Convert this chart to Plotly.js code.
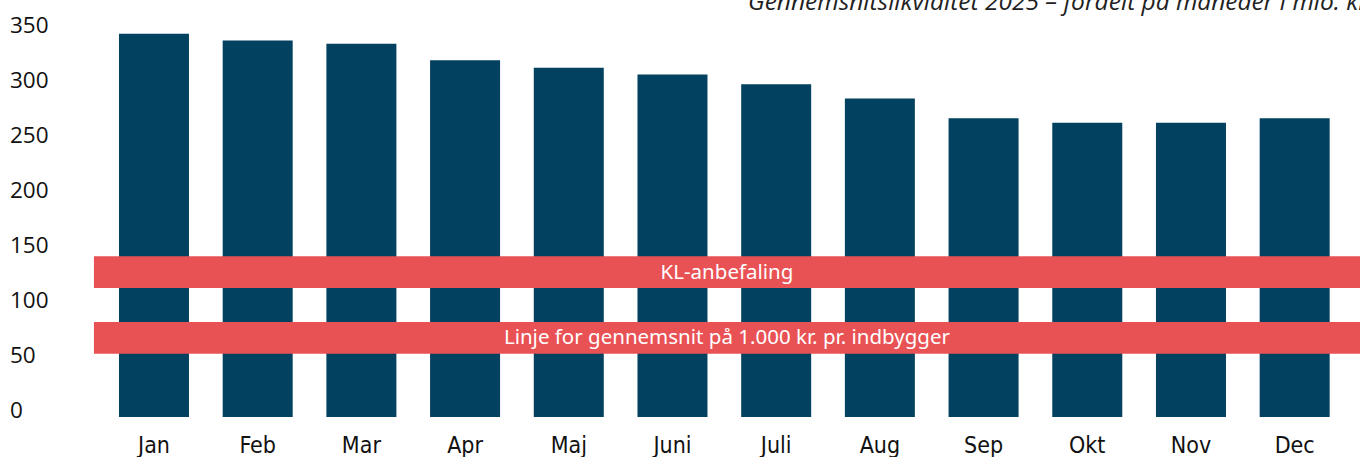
<!DOCTYPE html>
<html>
<head>
<meta charset="utf-8">
<script src="https://cdn.plot.ly/plotly-3.0.1.min.js"></script>
<style>html,body{margin:0;padding:0;background:#fff;}#chart{width:1360px;height:457px;}</style>
</head>
<body>
<div id="chart"></div>
<script>
const titleText = "Gennemsnitslikviditet 2025 – fordelt på måneder i mio. kr.";
const months = ["Jan","Feb","Mar","Apr","Maj","Juni","Juli","Aug","Sep","Okt","Nov","Dec"];
const liquidity = [349, 343, 340, 325, 318, 312, 303, 290, 272, 268, 268, 272];
const yTicks = [0, 50, 100, 150, 200, 250, 300, 350];
const bandNames = ["KL-anbefaling", "Linje for gennemsnit på 1.000 kr. pr. indbygger"];
const bandLow = [117.5, 57.5];
const bandHigh = [146.5, 86.5];

const barColor = "#02415f";
const bandColor = "#e95254";
const condFont = "'DejaVu Sans Condensed', 'Liberation Sans Narrow', 'Roboto', sans-serif";

const trace = {
  type: "bar",
  x: months.map((m, i) => i),
  y: liquidity,
  width: 0.675,
  marker: {color: barColor, line: {width: 0}},
  hoverinfo: "x+y"
};

const shapes = bandNames.map((name, i) => ({
  type: "rect",
  xref: "x", yref: "y",
  x0: -0.579, x1: 11.63,
  y0: bandLow[i], y1: bandHigh[i],
  fillcolor: bandColor,
  line: {width: 0},
  layer: "above",
  label: {text: name, textposition: "middle center",
          font: {family: "'Noto Sans', 'Open Sans', sans-serif", size: 20.5, color: "#ffffff"}}
}));

const tickAnnotations = yTicks.map(v => ({
  xref: "paper", yref: "y",
  x: 2 / 1354, y: v,
  xanchor: "left", yanchor: "middle",
  yshift: 8,
  showarrow: false,
  text: String(v),
  font: {family: "'Open Sans', sans-serif", size: 22.5, color: "#111111"}
}));

const layout = {
  width: 1360, height: 457,
  margin: {l: 6, r: 0, t: 10, b: 40},
  paper_bgcolor: "#ffffff",
  plot_bgcolor: "#ffffff",
  showlegend: false,
  title: {
    text: "<i>" + titleText + "</i>",
    font: {family: "'Open Sans', sans-serif", size: 24.5, color: "#222222"},
    xref: "container", yref: "container",
    x: 748 / 1360, xanchor: "left",
    y: 1 - 10 / 457, yanchor: "bottom"
  },
  xaxis: {
    range: [-1.427, 11.63],
    tickmode: "array",
    tickvals: months.map((m, i) => i),
    ticktext: months,
    showgrid: false, zeroline: false, showline: false,
    ticks: "",
    ticklabelstandoff: 12,
    tickfont: {family: condFont, size: 23, color: "#111111"}
  },
  yaxis: {
    range: [0, 370.7],
    showticklabels: false,
    showgrid: false, zeroline: false, showline: false,
    ticks: ""
  },
  shapes: shapes,
  annotations: tickAnnotations
};

Plotly.newPlot("chart", [trace], layout, {displayModeBar: false, staticPlot: true});
</script>
</body>
</html>
